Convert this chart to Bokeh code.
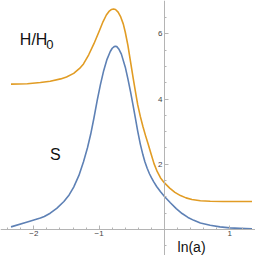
from bokeh.plotting import figure
from bokeh.models import LinearAxis, FixedTicker, Label
from bokeh.embed import file_html
from bokeh.resources import INLINE

# S curve (blue)
s_x = [-2.35, -2.1, -1.9, -1.84, -1.75, -1.65, -1.54, -1.46, -1.39, -1.31, -1.24,
       -1.18, -1.13, -1.08, -1.03, -0.98, -0.93, -0.88, -0.83, -0.8, -0.77, -0.75,
       -0.73, -0.7, -0.66, -0.6, -0.56, -0.52, -0.48, -0.444, -0.41, -0.37, -0.33,
       -0.3, -0.265, -0.23, -0.2, -0.164, -0.12, -0.06, 0.0, 0.09, 0.18, 0.27, 0.36,
       0.45, 0.55, 0.7, 0.85, 1.0, 1.15, 1.34]
s_y = [0.08, 0.23, 0.35, 0.40, 0.50, 0.65, 0.86, 1.06, 1.30, 1.66, 2.08,
       2.50, 2.92, 3.42, 3.96, 4.45, 4.88, 5.22, 5.46, 5.56, 5.61, 5.62,
       5.61, 5.54, 5.38, 4.98, 4.62, 4.23, 3.80, 3.40, 3.02, 2.62, 2.29,
       2.08, 1.88, 1.71, 1.59, 1.46, 1.32, 1.16, 1.01, 0.82, 0.64, 0.49, 0.37,
       0.28, 0.20, 0.13, 0.08, 0.05, 0.035, 0.02]

# H/H0 curve (orange)
h_x = [-2.35, -2.1, -1.9, -1.75, -1.59, -1.5, -1.39, -1.3, -1.24, -1.16, -1.08,
       -1.0, -0.94, -0.89, -0.85, -0.81, -0.78, -0.75, -0.71, -0.67, -0.63, -0.6,
       -0.56, -0.52, -0.48, -0.444, -0.41, -0.37, -0.33, -0.29, -0.25, -0.214,
       -0.16, -0.112, -0.06, 0.0, 0.08, 0.16, 0.245, 0.33, 0.42, 0.55, 0.7, 0.9,
       1.1, 1.34]
h_y = [4.46, 4.47, 4.51, 4.55, 4.62, 4.68, 4.79, 4.94, 5.08, 5.36, 5.70,
       6.08, 6.38, 6.58, 6.69, 6.75, 6.765, 6.75, 6.67, 6.52, 6.3, 6.05,
       5.65, 5.15, 4.65, 4.22, 3.83, 3.47, 3.16, 2.88, 2.62, 2.38,
       2.02, 1.78, 1.58, 1.43, 1.27, 1.14, 1.04, 0.97, 0.92, 0.88, 0.865, 0.86,
       0.86, 0.86]

x_major = [-2, -1, 1]
x_minor = [-2.4, -2.2, -1.8, -1.6, -1.4, -1.2, -0.8, -0.6, -0.4, -0.2,
           0.2, 0.4, 0.6, 0.8, 1.2, 1.4]
y_major = [2, 4, 6]
y_minor = [-1.0, -0.5, 0.5, 1.0, 1.5, 2.5, 3.0, 3.5, 4.5, 5.0, 5.5, 6.5]

p = figure(width=255, height=255, output_backend="svg", toolbar_location=None,
           x_range=(-2.511, 1.394), y_range=(-0.798, 7.025),
           x_axis_type=None, y_axis_type=None, min_border=0)
p.outline_line_color = None
p.grid.visible = False

AX = "#b4b4b4"
xa = LinearAxis(fixed_location=0, ticker=FixedTicker(ticks=x_major, minor_ticks=x_minor),
                major_label_overrides={-2: "\u22122", -1: "\u22121", 1: "1"})
ya = LinearAxis(fixed_location=0, ticker=FixedTicker(ticks=y_major, minor_ticks=y_minor))
for a in (xa, ya):
    a.axis_line_color = AX
    a.major_tick_line_color = AX
    a.minor_tick_line_color = AX
    a.major_tick_in = 4
    a.major_tick_out = 0
    a.minor_tick_in = 2
    a.minor_tick_out = 0
    a.major_label_text_font = "Liberation Sans"
    a.major_label_text_font_size = "8px"
    a.major_label_text_color = "#444444"
    a.major_label_standoff = 2
p.add_layout(xa, "below")
p.add_layout(ya, "left")

p.line(h_x, h_y, line_color="#E19C24", line_width=1.6, line_join="round")
p.line(s_x, s_y, line_color="#5E81B5", line_width=1.6, line_join="round")

F = "Liberation Sans"
p.add_layout(Label(x=-2.215, y=5.83, text="H/H", text_font=F, text_font_size="16px",
                   text_color="#111111", text_baseline="alphabetic"))
p.add_layout(Label(x=-1.81, y=5.66, text="0", text_font=F, text_font_size="13px",
                   text_color="#111111", text_baseline="alphabetic"))
p.add_layout(Label(x=-1.754, y=2.31, text="S", text_font=F, text_font_size="16px",
                   text_color="#111111", text_baseline="alphabetic"))
p.add_layout(Label(x=0.2, y=-0.55, text="ln(a)", text_font=F, text_font_size="14px",
                   text_color="#111111", text_baseline="alphabetic"))

open("out.html", "w").write(file_html(p, INLINE))
